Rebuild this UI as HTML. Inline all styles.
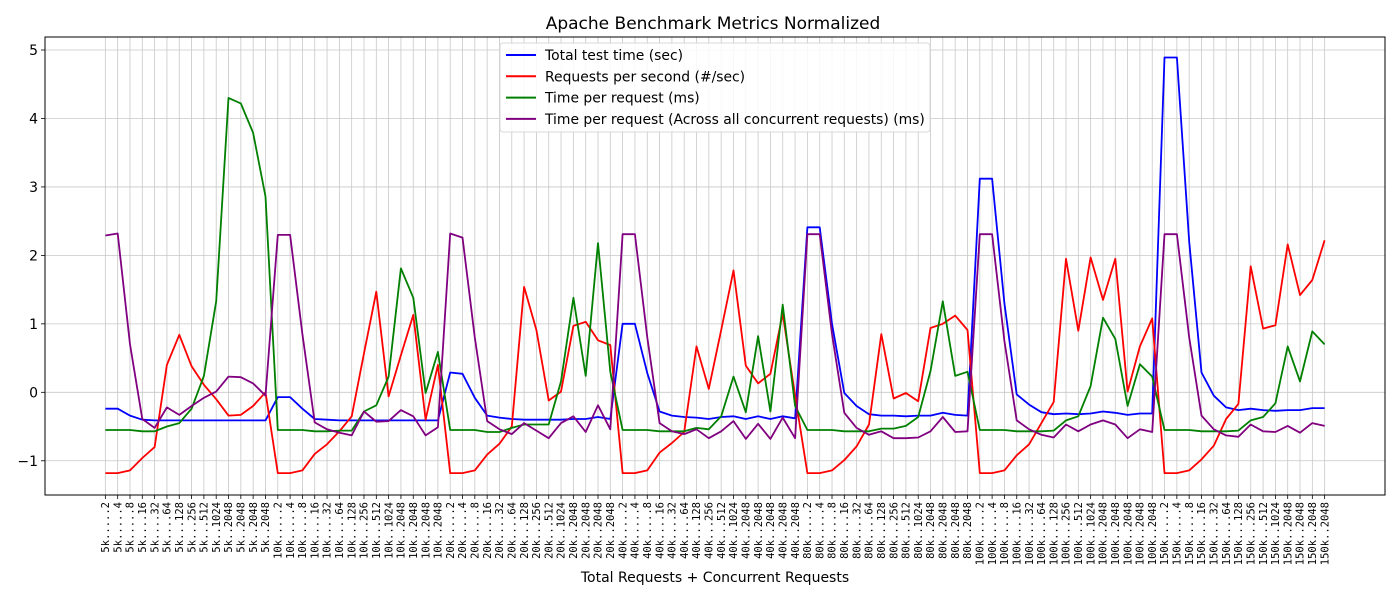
<!DOCTYPE html>
<html><head><meta charset="utf-8"><style>
html,body{margin:0;padding:0;background:#fff;}
svg{display:block;font-family:"DejaVu Sans","Liberation Sans",sans-serif;}
</style></head><body>
<svg id="chart" width="1400" height="600" viewBox="0 0 1400 600" xmlns="http://www.w3.org/2000/svg">
<rect x="0" y="0" width="1400" height="600" fill="#fff"/>
<text x="713" y="29" text-anchor="middle" font-size="17" fill="#000">Apache Benchmark Metrics Normalized</text>
<g id="grid"></g><g id="lines"></g><g id="axes"></g>
<text x="715" y="582" text-anchor="middle" font-size="14" fill="#000">Total Requests + Concurrent Requests</text>
<g id="legend"></g>
</svg>
<script>
const groups = ["5k","10k","20k","40k","80k","100k","150k"];
const groupCounts = [14,14,14,15,14,15,14];
const concurrency = ["2","4","8","16","32","64","128","256","512","1024","2048","2048","2048","2048","2048"];
const yTicks = [-1,0,1,2,3,4,5];
const seriesNames = ["Total test time (sec)","Requests per second (#/sec)","Time per request (ms)","Time per request (Across all concurrent requests) (ms)"];
const totalTime = [-0.24,-0.24,-0.34,-0.4,-0.41,-0.41,-0.41,-0.41,-0.41,-0.41,-0.41,-0.41,-0.41,-0.41,
-0.07,-0.07,-0.24,-0.39,-0.4,-0.41,-0.41,-0.41,-0.41,-0.41,-0.41,-0.41,-0.41,-0.41,
0.29,0.27,-0.08,-0.34,-0.37,-0.39,-0.4,-0.4,-0.4,-0.4,-0.39,-0.39,-0.36,-0.39,
1.0,1.0,0.28,-0.28,-0.34,-0.36,-0.37,-0.39,-0.36,-0.35,-0.39,-0.35,-0.39,-0.35,-0.38,
2.41,2.41,1.0,-0.01,-0.2,-0.32,-0.34,-0.34,-0.35,-0.34,-0.34,-0.3,-0.33,-0.34,
3.12,3.12,1.3,-0.03,-0.18,-0.29,-0.32,-0.31,-0.32,-0.31,-0.28,-0.3,-0.33,-0.31,-0.31,
4.89,4.89,2.2,0.29,-0.05,-0.22,-0.26,-0.24,-0.26,-0.27,-0.26,-0.26,-0.23,-0.23];
const reqPerSec = [-1.18,-1.18,-1.14,-0.96,-0.8,0.4,0.84,0.38,0.11,-0.1,-0.34,-0.33,-0.2,0.0,
-1.18,-1.18,-1.14,-0.9,-0.76,-0.57,-0.35,0.57,1.47,-0.06,0.54,1.13,-0.4,0.4,
-1.18,-1.18,-1.14,-0.91,-0.75,-0.5,1.54,0.91,-0.12,0.01,0.97,1.03,0.76,0.69,
-1.18,-1.18,-1.14,-0.88,-0.74,-0.58,0.67,0.05,0.91,1.78,0.39,0.13,0.27,1.15,-0.05,
-1.18,-1.18,-1.14,-0.99,-0.79,-0.47,0.85,-0.09,-0.01,-0.13,0.94,1.0,1.12,0.91,
-1.18,-1.18,-1.14,-0.92,-0.76,-0.45,-0.14,1.95,0.9,1.97,1.35,1.95,0.01,0.67,1.08,
-1.18,-1.18,-1.14,-0.98,-0.78,-0.39,-0.17,1.84,0.93,0.98,2.16,1.42,1.64,2.22];
const timePerReq = [-0.55,-0.55,-0.55,-0.57,-0.57,-0.5,-0.45,-0.24,0.24,1.33,4.3,4.22,3.79,2.86,
-0.55,-0.55,-0.55,-0.57,-0.57,-0.56,-0.56,-0.28,-0.19,0.23,1.81,1.38,-0.01,0.59,
-0.55,-0.55,-0.55,-0.58,-0.58,-0.52,-0.47,-0.47,-0.47,0.16,1.38,0.24,2.18,0.3,
-0.55,-0.55,-0.55,-0.57,-0.57,-0.57,-0.52,-0.54,-0.35,0.23,-0.29,0.82,-0.28,1.28,-0.2,
-0.55,-0.55,-0.55,-0.57,-0.57,-0.57,-0.53,-0.53,-0.49,-0.36,0.31,1.33,0.24,0.3,
-0.55,-0.55,-0.55,-0.57,-0.57,-0.57,-0.56,-0.41,-0.35,0.09,1.09,0.78,-0.2,0.41,0.23,
-0.55,-0.55,-0.55,-0.57,-0.57,-0.57,-0.56,-0.41,-0.36,-0.16,0.67,0.16,0.89,0.7];
const timePerReqAll = [2.29,2.32,0.7,-0.39,-0.52,-0.22,-0.33,-0.2,-0.08,0.01,0.23,0.22,0.13,-0.05,
2.3,2.3,0.85,-0.44,-0.54,-0.59,-0.63,-0.28,-0.43,-0.42,-0.26,-0.35,-0.63,-0.51,
2.32,2.26,0.8,-0.42,-0.54,-0.61,-0.45,-0.56,-0.67,-0.45,-0.35,-0.58,-0.19,-0.54,
2.31,2.31,0.8,-0.45,-0.57,-0.61,-0.54,-0.67,-0.57,-0.42,-0.68,-0.46,-0.68,-0.37,-0.67,
2.31,2.31,0.85,-0.3,-0.52,-0.62,-0.57,-0.67,-0.67,-0.66,-0.57,-0.36,-0.58,-0.57,
2.31,2.31,0.75,-0.41,-0.54,-0.62,-0.66,-0.47,-0.57,-0.47,-0.41,-0.47,-0.67,-0.54,-0.58,
2.31,2.31,0.8,-0.34,-0.54,-0.63,-0.65,-0.47,-0.57,-0.58,-0.49,-0.59,-0.45,-0.49];

const NS="http://www.w3.org/2000/svg";
const L=45,R=1385,T=37,B=495, YMIN=-1.5, YMAX=5.19;
const categories=[];
groups.forEach((g,gi)=>{for(let k=0;k<groupCounts[gi];k++){const c=concurrency[k];categories.push(g+".".repeat(Math.max(2,6-c.length))+c);}});
const n=categories.length;
const pad=(n-1)*0.0495;
function xs(i){return L+(i+pad)/((n-1)+2*pad)*(R-L);}
function ys(v){return B-(v-YMIN)/(YMAX-YMIN)*(B-T);}
function mk(tag,attrs,parent){const e=document.createElementNS(NS,tag);for(const k in attrs)e.setAttribute(k,attrs[k]);parent.appendChild(e);return e;}
const grid=document.getElementById('grid'),axes=document.getElementById('axes'),lines=document.getElementById('lines');
categories.forEach((c,i)=>{
  const x=xs(i);
  const gl=mk('line',{x1:x,x2:x,y1:T,y2:B,stroke:'#c8c8c8','stroke-width':0.8},grid);
  
  
  const tk=mk('line',{x1:x,x2:x,y1:B,y2:B+4,stroke:'#000','stroke-width':0.8},axes);
  
  
  const t=mk('text',{x:0,y:0,transform:`translate(${x+3.7},${B+7}) rotate(-90)`,'text-anchor':'end','font-size':10.5,'font-family':'"DejaVu Sans Mono","Liberation Mono",monospace',fill:'#000'},axes);
  
  
  t.textContent=c;
});
yTicks.forEach(v=>{
  const y=ys(v);
  const gl=mk('line',{x1:L,x2:R,y1:y,y2:y,stroke:'#c8c8c8','stroke-width':0.8},grid);
  
  
  const tk=mk('line',{x1:L-4,x2:L,y1:y,y2:y,stroke:'#000','stroke-width':0.8},axes);
  
  
  const t=mk('text',{x:L-7,y:y+5,'text-anchor':'end','font-size':14,fill:'#000'},axes);
  
  
  t.textContent=v<0?'\u2212'+Math.abs(v):String(v);
});
const frame=mk('rect',{x:L,y:T,width:R-L,height:B-T,fill:'none',stroke:'#000','stroke-width':1},axes);


const series=[totalTime,reqPerSec,timePerReq,timePerReqAll];
const colors=['#0000ff','#ff0000','#008000','#800080'];
const snames=['total-test-time-line','requests-per-second-line','time-per-request-line','time-per-request-all-line'];
series.forEach((s,si)=>{
  const d=s.map((v,i)=>(i?'L':'M')+xs(i).toFixed(1)+','+ys(v).toFixed(1)).join(' ');
  const p=mk('path',{d:d,fill:'none',stroke:colors[si],'stroke-width':1.8,'stroke-linejoin':'round'},lines);
  
  
});
const lg=document.getElementById('legend');
const box=mk('rect',{x:500,y:43,width:430,height:89,rx:3,fill:'#fff','fill-opacity':0.85,stroke:'#d8d8d8','stroke-width':1},lg);


seriesNames.forEach((nm,i)=>{
  const y=55+i*21.3;
  const ln=mk('line',{x1:506,x2:536,y1:y,y2:y,stroke:colors[i],'stroke-width':2},lg);
  
  
  const t=mk('text',{x:545,y:y+5,'font-size':13.9,fill:'#000'},lg);
  
  
  t.textContent=nm;
});
</script>
</body></html>
